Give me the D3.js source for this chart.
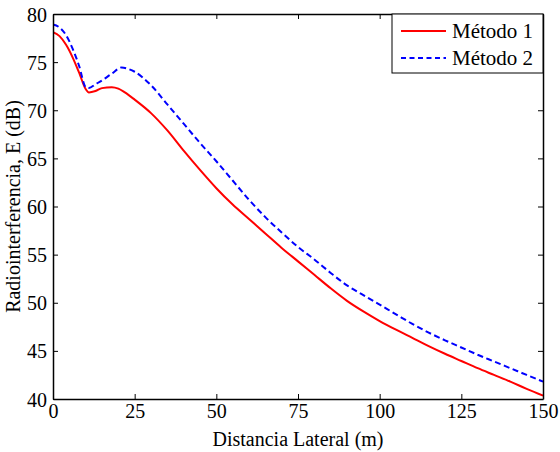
<!DOCTYPE html>
<html><head><meta charset="utf-8">
<script src="https://cdn.jsdelivr.net/npm/d3@7"></script>
<style>body{margin:0;background:#fff}svg{display:block}</style>
</head><body>
<svg id="c" width="560" height="452"></svg>
<script>
const distance = [0,2,4,6,8,10,11,13,15,18,20,22,25,30,35,40,45,50,55,60,65,70,75,80,85,90,95,100,105,110,115,120,125,130,135,140,145,150];
const metodo1 = [78.1,77.7,76.8,75.5,73.9,72.2,71.85,72.0,72.3,72.4,72.25,71.85,71.1,69.7,67.9,65.8,63.8,61.9,60.2,58.7,57.2,55.7,54.3,52.9,51.5,50.2,49.1,48.1,47.2,46.35,45.5,44.7,43.95,43.2,42.5,41.8,41.05,40.35];
const distance2 = [0,2,4,6,8,10,11,13,15,18,21,23,25,30,35,40,45,50,55,60,65,70,75,80,85,90,95,100,105,110,115,120,125,130,135,140,145,150];
const metodo2 = [78.9,78.6,77.8,76.4,74.6,72.4,72.3,72.7,73.1,73.8,74.45,74.3,74.0,72.6,70.6,68.6,66.6,64.7,62.7,60.7,58.9,57.3,55.8,54.5,53.1,51.8,50.8,49.8,48.8,47.8,46.9,46.1,45.35,44.6,43.9,43.2,42.5,41.8];
const xTicks = [0,25,50,75,100,125,150];
const yTicks = [40,45,50,55,60,65,70,75,80];
const seriesNames = ["Método 1","Método 2"];
const seriesColors = ["#ff0000","#0000ff"];

const FONT = "'Liberation Serif','Times New Roman',Times,serif";
const svg = d3.select("#c");
const L=53,R=543,T=14,B=399;
const x = d3.scaleLinear().domain([0,150]).range([L,R]);
const y = d3.scaleLinear().domain([40,80]).range([B,T]);

const line = d3.line().curve(d3.curveMonotoneX).x(d=>x(d[0])).y(d=>y(d[1]));
svg.append("clipPath").attr("id","cp").append("rect").attr("x",L).attr("y",T).attr("width",R-L).attr("height",B-T);
const g = svg.append("g").attr("clip-path","url(#cp)");
g.append("path").datum(distance.map((d,i)=>[d,metodo1[i]])).attr("d",line)
 .attr("fill","none").attr("stroke",seriesColors[0]).attr("stroke-width",2);
g.append("path").datum(distance2.map((d,i)=>[d,metodo2[i]])).attr("d",line)
 .attr("fill","none").attr("stroke",seriesColors[1]).attr("stroke-width",2).attr("stroke-dasharray","6,3.5");

// axes
const fs = 20;
const xb = svg.append("g").attr("transform",`translate(0,${B})`)
 .call(d3.axisBottom(x).tickValues(xTicks).tickSizeInner(-5).tickSizeOuter(0).tickPadding(8));
const xt = svg.append("g").attr("transform",`translate(0,${T})`)
 .call(d3.axisTop(x).tickValues(xTicks).tickSizeInner(-5).tickSizeOuter(0).tickFormat(""));
const yl = svg.append("g").attr("transform",`translate(${L},0)`)
 .call(d3.axisLeft(y).tickValues(yTicks).tickSizeInner(-5).tickSizeOuter(0).tickPadding(6));
const yr = svg.append("g").attr("transform",`translate(${R},0)`)
 .call(d3.axisRight(y).tickValues(yTicks).tickSizeInner(-5).tickSizeOuter(0).tickFormat(""));
[xb,xt,yl,yr].forEach(a=>{
  a.attr("font-family",FONT).attr("font-size",fs);
  a.select(".domain").attr("stroke","#000").attr("stroke-width",1.5);
  a.selectAll(".tick line").attr("stroke","#000").attr("stroke-width",1);
  a.selectAll("text").attr("fill","#000");
});
xb.selectAll("text").attr("dy","0.71em").attr("y",5);
yl.selectAll("text").attr("dy","0.35em");

// labels
svg.append("text").attr("x",(L+R)/2).attr("y",446).attr("text-anchor","middle")
 .attr("font-family",FONT).attr("font-size",20).text("Distancia Lateral (m)");
svg.append("text").attr("transform",`translate(20,${(T+B)/2}) rotate(-90)`).attr("text-anchor","middle")
 .attr("font-family",FONT).attr("font-size",20).text("Radiointerferencia, E (dB)");

// legend
const lg = svg.append("g");
lg.append("rect").attr("x",392).attr("y",T).attr("width",R-392).attr("height",59).attr("fill","#fff").attr("stroke","#000").attr("stroke-width",1);
seriesNames.forEach((n,i)=>{
  const cy = 31 + i*27;
  lg.append("line").attr("x1",401).attr("x2",446).attr("y1",cy).attr("y2",cy)
    .attr("stroke",seriesColors[i]).attr("stroke-width",2).attr("stroke-dasharray",i?"5,3.5":null);
  lg.append("text").attr("x",452).attr("y",cy+7).attr("font-family",FONT).attr("font-size",21).text(n);
});
</script>
</body></html>
